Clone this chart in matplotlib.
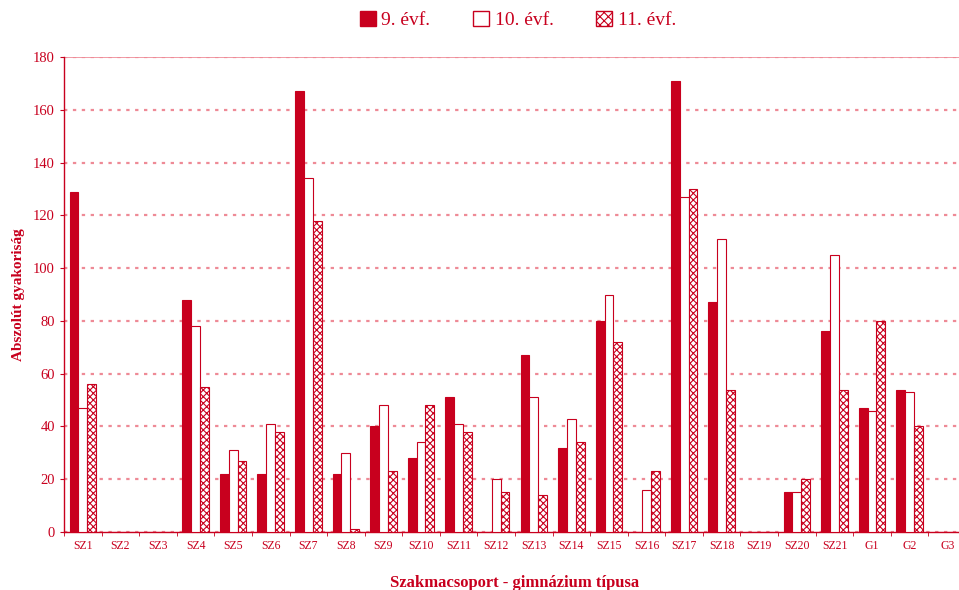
import numpy as np
import matplotlib.pyplot as plt
from matplotlib.patches import Patch

categories = ["SZ1", "SZ2", "SZ3", "SZ4", "SZ5", "SZ6", "SZ7", "SZ8", "SZ9", "SZ10",
              "SZ11", "SZ12", "SZ13", "SZ14", "SZ15", "SZ16", "SZ17", "SZ18", "SZ19",
              "SZ20", "SZ21", "G1", "G2", "G3"]
evf9 = [129, 0, 0, 88, 22, 22, 167, 22, 40, 28, 51, 0, 67, 32, 80, 0, 171, 87, 0, 15, 76, 47, 54, 0]
evf10 = [47, 0, 0, 78, 31, 41, 134, 30, 48, 34, 41, 20, 51, 43, 90, 16, 127, 111, 0, 15, 105, 46, 53, 0]
evf11 = [56, 0, 0, 55, 27, 38, 118, 1, 23, 48, 38, 15, 14, 34, 72, 23, 130, 54, 0, 20, 54, 80, 40, 0]
series_names = ["9. évf.", "10. évf.", "11. évf."]

RED = "#C8001E"
LIGHT = "#EE8A96"

plt.rcParams["font.family"] = ["Liberation Serif", "DejaVu Serif"]
plt.rcParams["hatch.color"] = RED
plt.rcParams["hatch.linewidth"] = 0.8

fig = plt.figure(figsize=(9.59, 5.90), dpi=100)
ax = fig.add_axes([64 / 959, 58 / 590, 902 / 959, 475 / 590])

x = np.arange(len(categories))
w = 0.235
ax.bar(x - w, evf9, w, color=RED, edgecolor=RED, linewidth=0.8, zorder=3)
ax.bar(x, evf10, w, color="white", edgecolor=RED, linewidth=0.8, zorder=3)
ax.bar(x + w, evf11, w, color="white", edgecolor=RED, linewidth=0.8, hatch="xxxxx", zorder=3)

ax.set_xlim(-0.5, len(categories) - 0.5)
ax.set_ylim(0, 180)
ax.set_yticks(range(0, 181, 20))
ax.set_xticks(x)
ax.set_xticklabels(categories, fontsize=8.5, color=RED)
ax.set_xticks(np.arange(-0.5, len(categories), 1), minor=True)
ax.tick_params(axis="x", which="major", length=0, pad=6)
ax.tick_params(axis="x", which="minor", length=3, color=RED, direction="out")
ax.tick_params(axis="y", length=3, color=RED, labelcolor=RED, labelsize=10.5)

ax.grid(axis="y", color=LIGHT, linestyle=(0, (1.5, 2.5)), linewidth=1.6, zorder=0)
ax.axhline(180, color=LIGHT, linewidth=1.2, zorder=1)

for side in ["top", "right"]:
    ax.spines[side].set_visible(False)
for side in ["left", "bottom"]:
    ax.spines[side].set_color(RED)
    ax.spines[side].set_linewidth(1.0)

ax.set_ylabel("Abszolút gyakoriság", color=RED, fontsize=11, fontweight="bold", labelpad=6)
ax.set_xlabel("Szakmacsoport - gimnázium típusa", color=RED, fontsize=12, fontweight="bold", labelpad=16)

handles = [Patch(facecolor=RED, edgecolor=RED),
           Patch(facecolor="white", edgecolor=RED),
           Patch(facecolor="white", edgecolor=RED, hatch="xxxx")]
fig.legend(handles, series_names, loc="center", bbox_to_anchor=(518 / 959, 1 - 20 / 590),
           ncol=3, frameon=False, fontsize=14, labelcolor=RED,
           handlelength=0.8, handleheight=0.8, handletextpad=0.3, columnspacing=2.2)

fig.savefig("out.png", dpi=100)
